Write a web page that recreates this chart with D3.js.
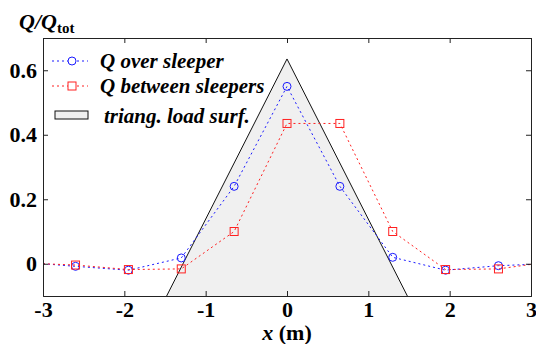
<!DOCTYPE html>
<html>
<head>
<meta charset="utf-8">
<script src="https://cdn.jsdelivr.net/npm/d3@7"></script>
</head>
<body style="margin:0">
<div id="chart"></div>
<script>
// data
const xPos = [-3, -2.6, -1.95, -1.3, -0.65, 0, 0.65, 1.3, 1.95, 2.6, 3];
const overSleeper = [0, -0.008, -0.02, 0.018, 0.24, 0.55, 0.24, 0.02, -0.02, -0.006, -0.002];
const betweenSleepers = [0, -0.004, -0.018, -0.016, 0.10, 0.435, 0.435, 0.10, -0.018, -0.016, -0.002];
const triX = [-1.48, 0, 1.48];
const triY = [-0.1, 0.635, -0.1];
const xTicks = [-3, -2, -1, 0, 1, 2, 3];
const yTicks = [0, 0.2, 0.4, 0.6];
const legendLabels = ["Q over sleeper", "Q between sleepers", "triang. load surf."];

const W = 536, H = 344;
const m = { left: 43, right: 5, top: 38, bottom: 48 };

const svg = d3.select("#chart").append("svg")
  .attr("width", W)
  .attr("height", H)
  .attr("font-family", "serif");

const x = d3.scaleLinear().domain([-3, 3]).range([m.left, W - m.right]);
const y = d3.scaleLinear().domain([-0.1, 0.7]).range([H - m.bottom, m.top]);

svg.append("clipPath").attr("id", "clip")
  .append("rect")
  .attr("x", m.left).attr("y", m.top)
  .attr("width", W - m.left - m.right).attr("height", H - m.top - m.bottom);

const plot = svg.append("g").attr("clip-path", "url(#clip)");

// triangular load surface
plot.append("path")
  .datum(triX.map((d, i) => [d, triY[i]]))
  .attr("d", d3.line().x(d => x(d[0])).y(d => y(d[1])))
  .attr("fill", "#f0f0f0")
  .attr("stroke", "#111")
  .attr("stroke-width", 1);

const line = d3.line().x(d => x(d[0])).y(d => y(d[1]));
const series = [
  { vals: overSleeper, color: "#1a1aff", marker: "circle" },
  { vals: betweenSleepers, color: "#ff2020", marker: "square" }
];

series.forEach(s => {
  const pts = xPos.map((d, i) => [d, s.vals[i]]);
  plot.append("path")
    .datum(pts)
    .attr("d", line)
    .attr("fill", "none")
    .attr("stroke", s.color)
    .attr("stroke-width", 1)
    .attr("stroke-dasharray", "2,3");
  const inner = pts.slice(1, -1);
  if (s.marker === "circle") {
    plot.selectAll(null).data(inner).enter().append("circle")
      .attr("cx", d => x(d[0])).attr("cy", d => y(d[1]))
      .attr("r", 4)
      .attr("fill", "none").attr("stroke", s.color).attr("stroke-width", 1);
  } else {
    plot.selectAll(null).data(inner).enter().append("rect")
      .attr("x", d => x(d[0]) - 4).attr("y", d => y(d[1]) - 4)
      .attr("width", 8).attr("height", 8)
      .attr("fill", "none").attr("stroke", s.color).attr("stroke-width", 1);
  }
});

// frame + axes
const tickLen = 5;
svg.append("g")
  .attr("transform", `translate(0,${H - m.bottom})`)
  .call(d3.axisBottom(x).tickValues(xTicks).tickSize(-tickLen).tickPadding(5).tickFormat(d => String(d)))
  .call(g => g.selectAll("text").attr("font-size", 22).attr("font-weight", "bold"));
svg.append("g")
  .attr("transform", `translate(0,${m.top})`)
  .call(d3.axisTop(x).tickValues(xTicks).tickSize(-tickLen).tickFormat(""));
svg.append("g")
  .attr("transform", `translate(${m.left},0)`)
  .call(d3.axisLeft(y).tickValues(yTicks).tickSize(-tickLen).tickPadding(6).tickFormat(d => d === 0 ? "0" : d3.format(".1f")(d)))
  .call(g => g.selectAll("text").attr("font-size", 22).attr("font-weight", "bold"));
svg.append("g")
  .attr("transform", `translate(${W - m.right},0)`)
  .call(d3.axisRight(y).tickValues(yTicks).tickSize(-tickLen).tickFormat(""));
svg.selectAll("g").attr("font-family", null);
svg.selectAll(".domain").attr("stroke", "#222");
svg.selectAll(".tick line").attr("stroke", "#222");
svg.selectAll(".tick text").attr("fill", "#000");

// axis titles
const yl = svg.append("text").attr("x", 19).attr("y", 29)
  .attr("font-size", 22).attr("font-style", "italic").attr("font-weight", "bold");
yl.append("tspan").text("Q/Q");
yl.append("tspan").attr("font-style", "normal").attr("font-size", 15).attr("dy", 4).text("tot");

const xl = svg.append("text").attr("x", x(0)).attr("y", 340)
  .attr("text-anchor", "middle").attr("font-size", 22).attr("font-weight", "bold");
xl.append("tspan").attr("font-style", "italic").text("x");
xl.append("tspan").text(" (m)");

// legend
const lg = svg.append("g");
const rows = [61, 86, 116];
[0, 1].forEach(i => {
  const s = series[i];
  lg.append("line").attr("x1", 52).attr("x2", 88).attr("y1", rows[i]).attr("y2", rows[i])
    .attr("stroke", s.color).attr("stroke-dasharray", "2,3");
  if (s.marker === "circle") {
    lg.append("circle").attr("cx", 72).attr("cy", rows[i]).attr("r", 4)
      .attr("fill", "#fff").attr("stroke", s.color);
  } else {
    lg.append("rect").attr("x", 68).attr("y", rows[i] - 4).attr("width", 8).attr("height", 8)
      .attr("fill", "#fff").attr("stroke", s.color);
  }
});
lg.append("rect").attr("x", 55).attr("y", 111).attr("width", 33).attr("height", 8)
  .attr("fill", "#f0f0f0").attr("stroke", "#111");
legendLabels.forEach((t, i) => {
  lg.append("text").attr("x", i === 2 ? 104 : 100).attr("y", rows[i] + 7)
    .attr("font-size", 21).attr("font-style", "italic").attr("font-weight", "bold")
    .text(t);
});

svg.selectAll("text").attr("font-family", "serif");
</script>
</body>
</html>
